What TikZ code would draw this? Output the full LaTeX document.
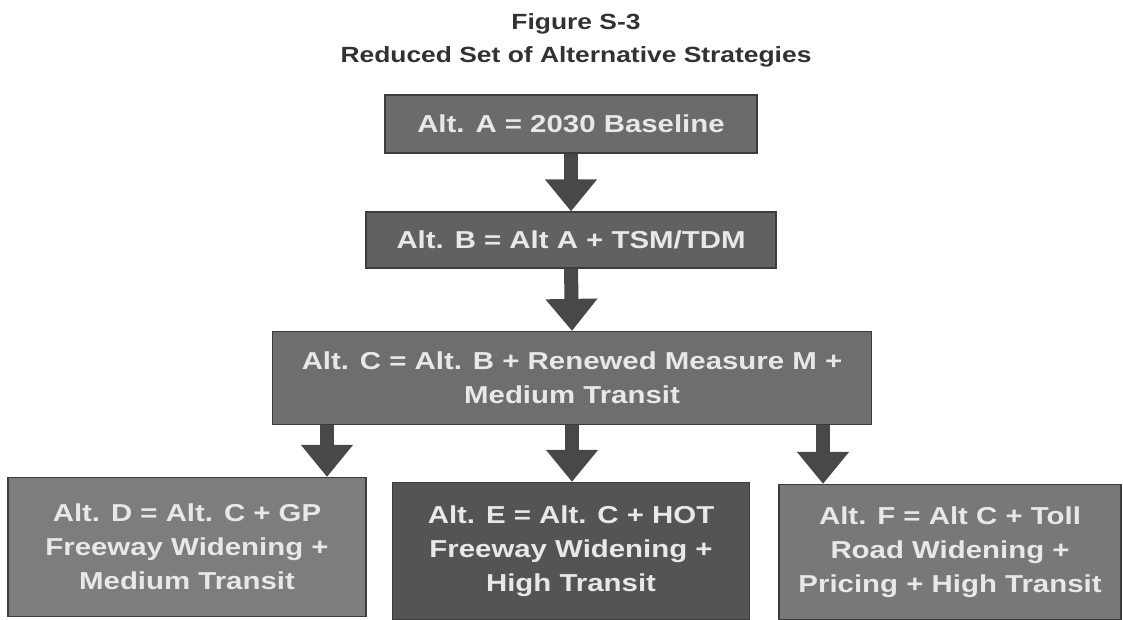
\documentclass[tikz,border=0pt]{standalone}
\usepackage{fontspec}
\setmainfont[FakeStretch=1.2]{Liberation Sans}
\usetikzlibrary{arrows.meta,positioning}
\definecolor{txtgray}{RGB}{232,232,232}
\definecolor{ttlgray}{RGB}{50,50,50}
\definecolor{arrgray}{RGB}{72,72,72}
\definecolor{edgegray}{RGB}{60,60,60}

\begin{document}
\begin{tikzpicture}[x=1pt,y=-1pt,
  altbox/.style={draw=edgegray,line width=1.2pt,text=txtgray,align=center,inner sep=0pt,
    font=\bfseries\fontsize{24.5}{34}\selectfont},
  flowarrow/.style={draw=arrgray,line width=14pt,-{Triangle[width=50pt,length=32pt]}},
  ttl/.style={font=\bfseries\fontsize{22}{33}\selectfont,text=ttlgray,anchor=base}]
  \useasboundingbox (0,0) rectangle (1123,620);
  % title
  \node[ttl] (fig) at (576,30) {Figure S-3};
  \node[ttl] (sub) at (576,63) {Reduced Set of Alternative Strategies};
  % alternatives
  \node[altbox,fill=black!58,minimum width=372pt,minimum height=58pt] (alta) at (571,124) {Alt. A = 2030 Baseline};
  \node[altbox,fill=black!62,minimum width=410pt,minimum height=56pt] (altb) at (571,240) {Alt. B = Alt A + TSM/TDM};
  \node[altbox,fill=black!57,minimum width=599pt,minimum height=93pt] (altc) at (572,378) {Alt. C = Alt. B + Renewed Measure M +\\ Medium Transit};
  \node[altbox,fill=black!51,minimum width=358pt,minimum height=139pt] (altd) at (187,547) {Alt. D = Alt. C + GP\\ Freeway Widening +\\ Medium Transit};
  \node[altbox,fill=black!67,minimum width=357pt,minimum height=137pt] (alte) at (571,551) {Alt. E = Alt. C + HOT\\ Freeway Widening +\\ High Transit};
  \node[altbox,fill=black!53,minimum width=342pt,minimum height=135pt] (altf) at (950,552) {Alt. F = Alt C + Toll\\ Road Widening +\\ Pricing + High Transit};
  % arrows
  \draw[flowarrow] (alta.south) -- (altb.north);
  \draw[flowarrow] (altb.south) -- (altc.north);
  \draw[flowarrow] ([xshift=-245pt]altc.south) -- ([xshift=-245pt]altc.south |- altd.north);
  \draw[flowarrow] (altc.south) -- (altc.south |- alte.north);
  \draw[flowarrow] ([xshift=251pt]altc.south) -- ([xshift=251pt]altc.south |- altf.north);
\end{tikzpicture}
\end{document}
